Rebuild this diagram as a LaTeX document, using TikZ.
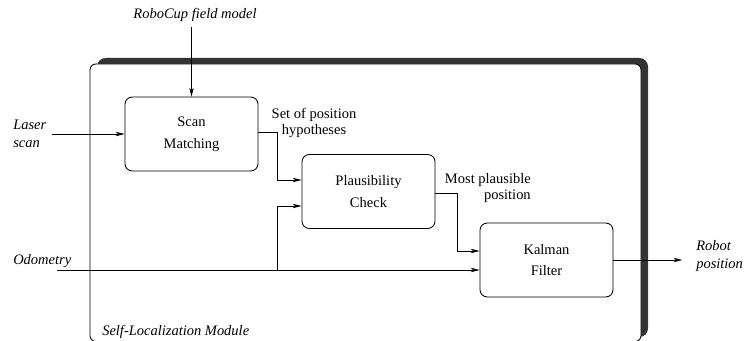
\documentclass[tikz,border=0pt]{standalone}
\usepackage{fontspec}
\setmainfont{Liberation Serif}
\usepackage{tikz}
\usetikzlibrary{arrows.meta,calc,positioning}
\definecolor{shadowgray}{HTML}{333333}

\begin{document}
\begin{tikzpicture}[x=0.69pt,y=-0.69pt,line width=0.6pt,
        block/.style={draw,rounded corners=5pt,minimum width=91.8pt,minimum height=51pt,
          align=center,font=\fontsize{10}{15}\selectfont},
        ext/.style={font=\itshape,align=left},
        lab/.style={font=\fontsize{10}{11}\selectfont},
        arr/.style={-{Stealth[length=6pt,width=3pt,inset=1.5pt]}}]
      \useasboundingbox (0,0) rectangle (746,341);
        \fill[shadowgray,rounded corners=6pt] (97,58) rectangle (648,337);
        \draw[fill=white,rounded corners=4pt] (90,64) rectangle (641,341.5);
        \node[ext,anchor=west] (modlabel) at (97,332) {Self-Localization Module};
        \node[block] (scan) at (191.5,134) {Scan\\Matching};
        \node[block] (plaus) at (368.5,191.5) {Plausibility\\Check};
        \node[block] (kalman) at (546.5,260) {Kalman\\Filter};
        \node[ext,anchor=south] (fieldmodel) at (195,27) {RoboCup field model};
        \node[ext,anchor=west] (laser) at (8,134) {Laser\\scan};
        \node[ext,anchor=west] (odometry) at (8,261) {Odometry};
        \node[ext,anchor=west] (robotpos) at (691,256) {Robot\\position};
        \node[lab,align=center] (hyplabel) at (314,123) {Set of position\\hypotheses};
        \node[lab,align=right,anchor=east] (mostlabel) at (536,188) {Most plausible\\position};
        \coordinate (odostart) at (57,270);
        \coordinate (jog) at ($(scan.east)+(19,0)$);
        \draw[arr] (fieldmodel.south -| scan.north) -- (scan.north);
        \draw[arr] (laser.east |- scan.west) -- (scan.west);
        \draw[arr] ($(scan.east)+(0,-2)$) -| (jog) |- ($(plaus.west)+(0,-11.5)$);
        \draw[arr] (odostart) -- ($(kalman.west)+(0,10)$);
        \draw[arr] (odostart -| jog) |- ($(plaus.west)+(0,14.5)$);
        \draw[arr] ($(plaus.east)+(0,1.5)$) -- ++(22,0) |- ($(kalman.west)+(0,-9)$);
        \draw[arr] (kalman.east) -- ([xshift=-6pt]kalman.east -| robotpos.west);
    \end{tikzpicture}
\end{document}
